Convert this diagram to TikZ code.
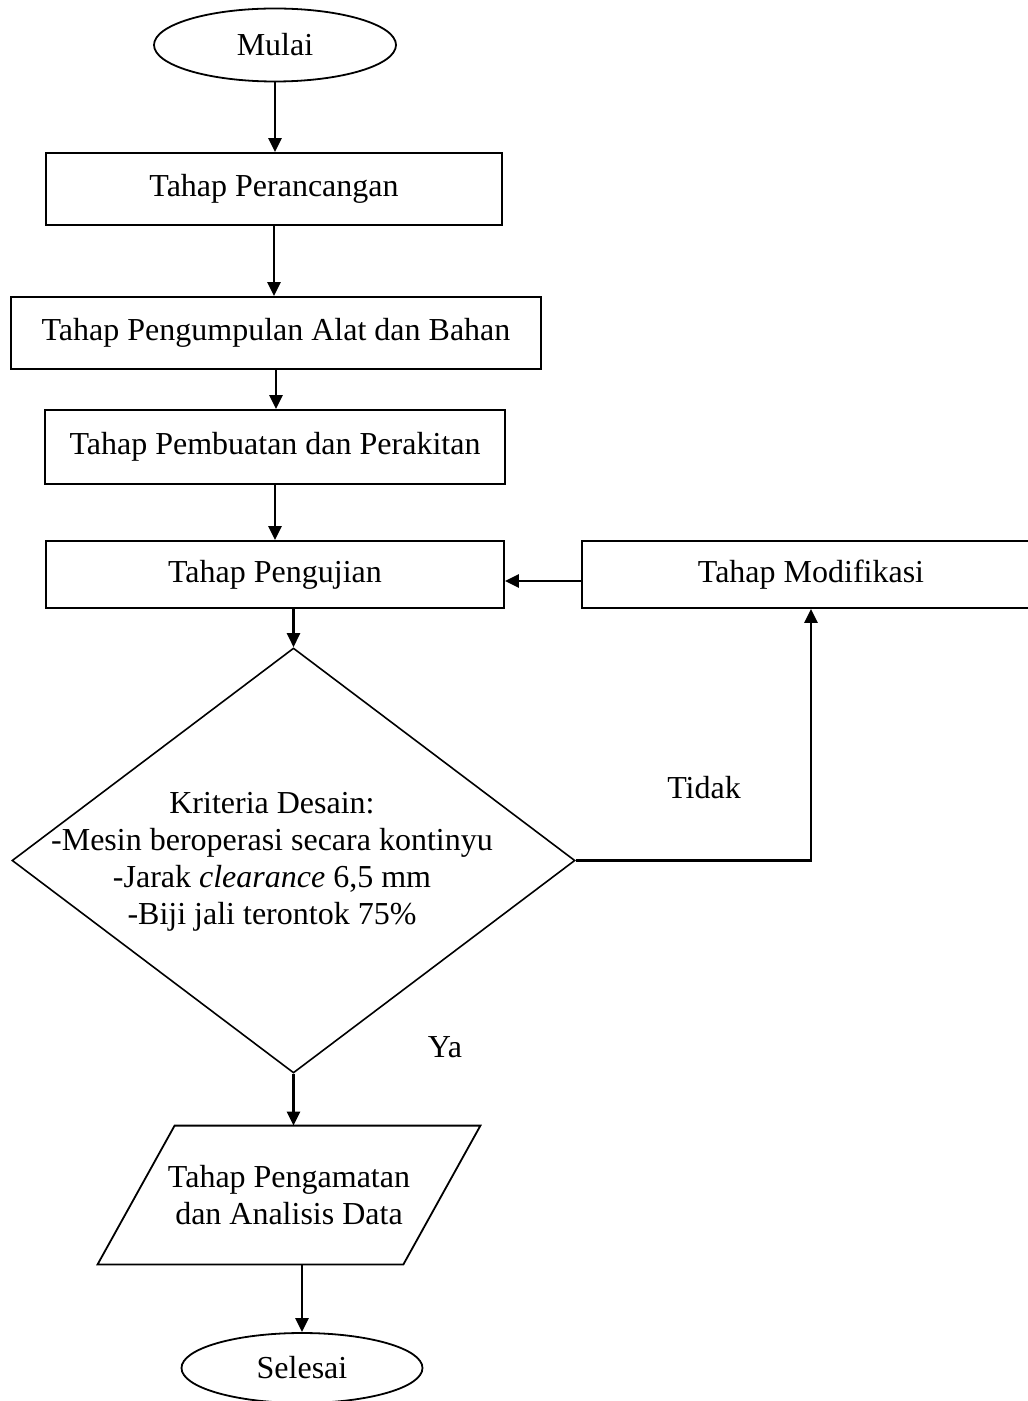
\documentclass[tikz,border=0pt]{standalone}
\usepackage{fontspec}
\setmainfont{Liberation Serif}
\usetikzlibrary{positioning,arrows.meta,shapes.geometric}
\newcommand{\flowfont}{\fontsize{16pt}{18.5pt}\selectfont}
\tikzset{
  terminal/.style={ellipse, draw, line width=0.9pt, minimum width=121pt, minimum height=36.5pt, inner sep=0pt},
  process/.style={rectangle, draw, line width=0.9pt, minimum height=36pt, inner sep=0pt},
  decision/.style={diamond, draw, line width=0.8pt, minimum width=281.5pt, minimum height=212.5pt, inner sep=0pt},
  fwd/.style={-{Triangle[length=7pt,width=6.5pt]}, line width=1.2pt},
}

\begin{document}
\begin{tikzpicture}[x=0.5pt, y=-0.5pt, font=\flowfont]
  \useasboundingbox (0,0) rectangle (1027,1401);

  \node[terminal] (mulai) at (275,45) {Mulai};
  \node[process, minimum width=228pt] (perancangan) at (274,189) {Tahap Perancangan};
  \node[process, minimum width=265pt] (pengumpulan) at (276,333) {Tahap Pengumpulan Alat dan Bahan};
  \node[process, minimum width=230pt, minimum height=37pt] (pembuatan) at (275,447) {Tahap Pembuatan dan Perakitan};
  \node[process, minimum width=229pt, minimum height=33.5pt] (pengujian) at (275,574.5) {Tahap Pengujian};
  \node[process, minimum width=229pt, minimum height=33.5pt] (modifikasi) at (811,574.5) {Tahap Modifikasi};

  % decision with its criteria
  \node[decision] (kriteria) at (293.5,860.5) {};
  \node[align=center] (kriteriatxt) at (272,862) {Kriteria Desain:\\-Mesin beroperasi secara kontinyu\\-Jarak \textit{clearance} 6,5 mm\\-Biji jali terontok 75\%};

  % data step (parallelogram)
  \node[minimum width=191pt, minimum height=69pt, inner sep=0pt, align=center] (analisis) at (289,1195) {Tahap Pengamatan\\dan Analisis Data};
  \draw[line width=0.9pt] ([xshift=38.5pt]analisis.north west) -- (analisis.north east)
    -- ([xshift=-38.5pt]analisis.south east) -- (analisis.south west) -- cycle;

  \node[terminal, minimum width=120.5pt, minimum height=35pt] (selesai) at (302,1368) {Selesai};

  \node (tidak) at (704,788) {Tidak};
  \node (ya) at (445,1047) {Ya};

  \draw[fwd] (mulai.south) -- (mulai.south |- perancangan.north);
  \draw[fwd] (perancangan.south) -- (perancangan.south |- pengumpulan.north);
  \draw[fwd] (pengumpulan.south) -- (pengumpulan.south |- pembuatan.north);
  \draw[fwd] (pembuatan.south) -- (pembuatan.south |- pengujian.north);
  \draw[fwd] (kriteria.north |- pengujian.south) -- (kriteria.north);
  \draw[fwd] ([yshift=-3.25pt]modifikasi.west) -- ([yshift=-3.25pt]pengujian.east);
  \draw[fwd] (kriteria.east) -- (modifikasi.south |- kriteria.east) -- (modifikasi.south);
  \draw[fwd] (kriteria.south) -- (kriteria.south |- analisis.north);
  \draw[fwd] (selesai.north |- analisis.south) -- (selesai.north);
\end{tikzpicture}
\end{document}
